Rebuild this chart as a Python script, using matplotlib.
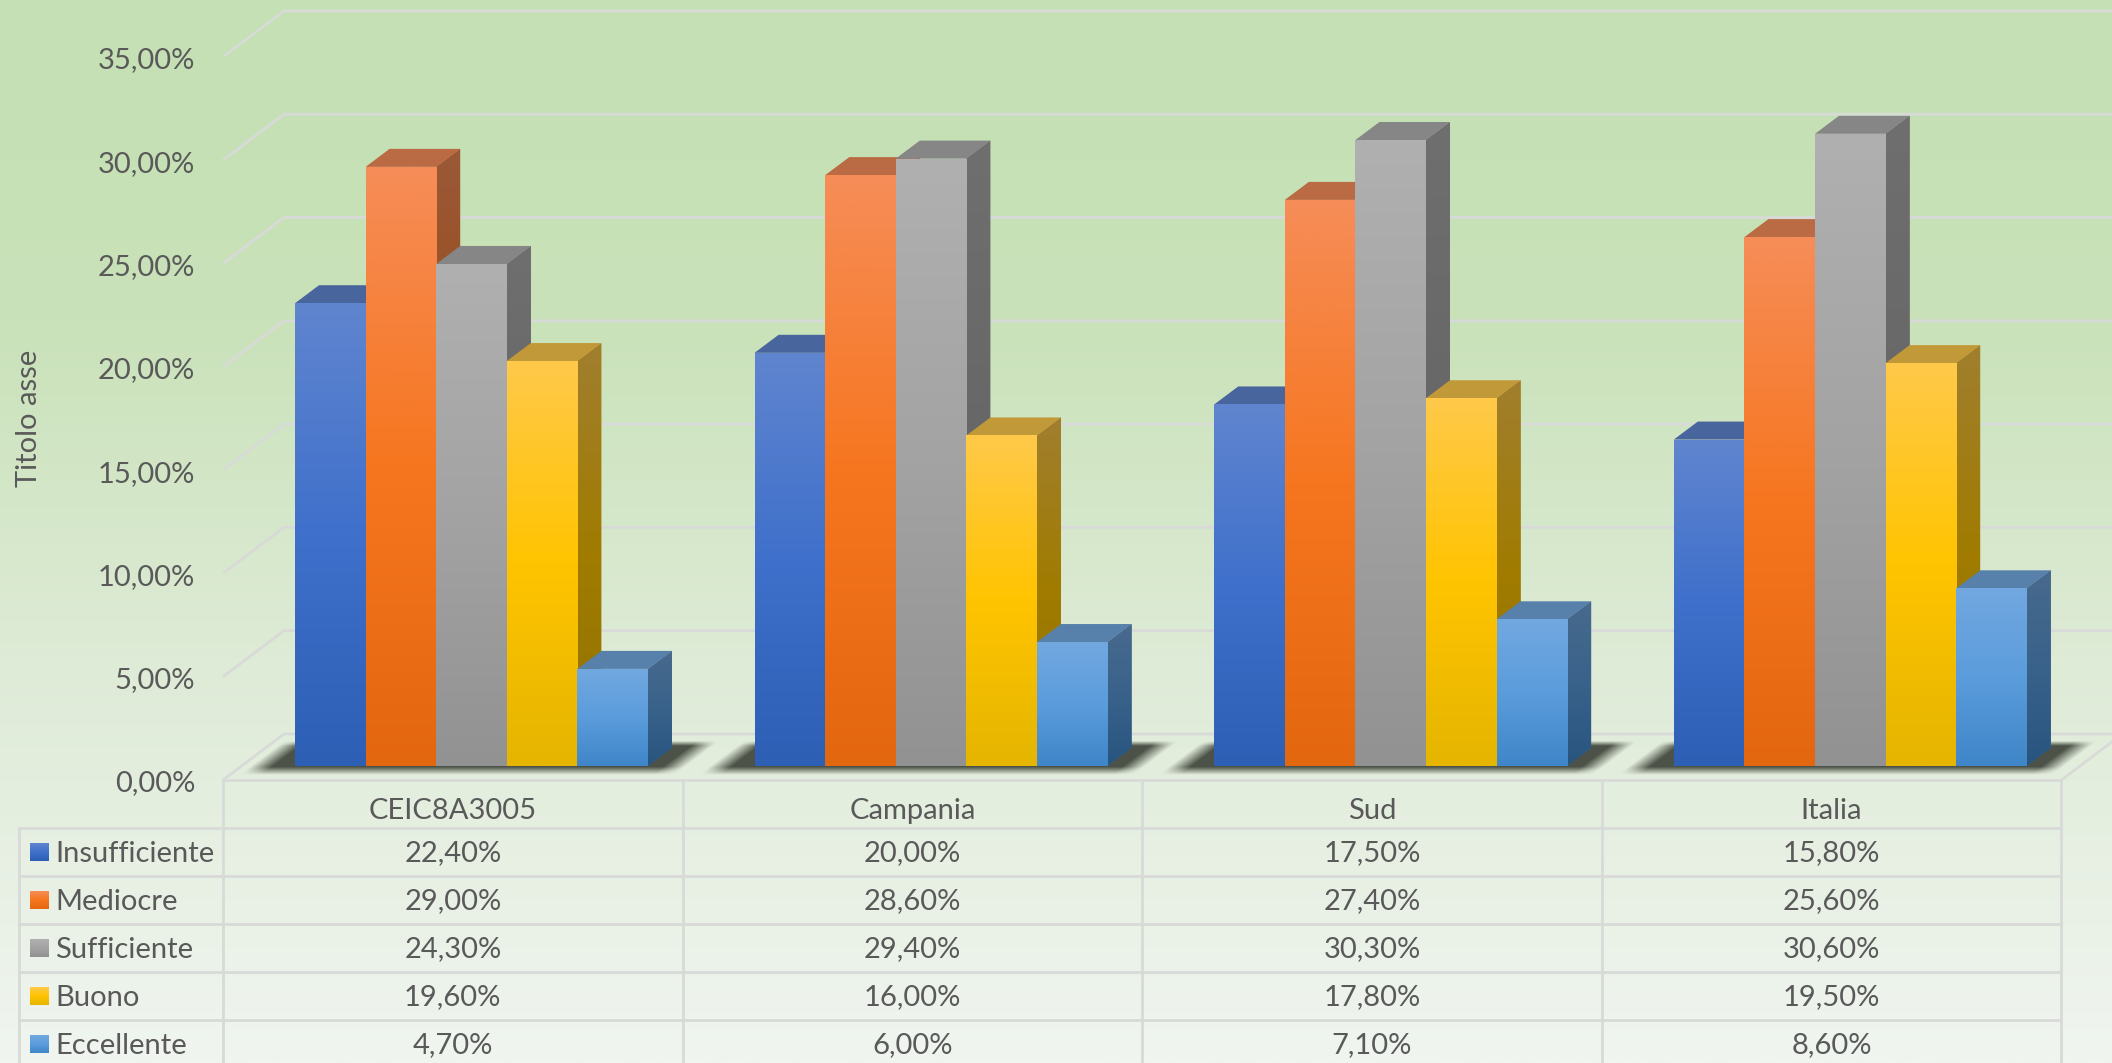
import numpy as np
import matplotlib
matplotlib.use("Agg")
from matplotlib import pyplot as plt
from matplotlib.colors import LinearSegmentedColormap, to_rgb
from matplotlib.patches import Polygon, Rectangle

categories = ["CEIC8A3005", "Campania", "Sud", "Italia"]
series_names = ["Insufficiente", "Mediocre", "Sufficiente", "Buono", "Eccellente"]
insufficiente = [22.4, 20.0, 17.5, 15.8]
mediocre = [29.0, 28.6, 27.4, 25.6]
sufficiente = [24.3, 29.4, 30.3, 30.6]
buono = [19.6, 16.0, 17.8, 19.5]
eccellente = [4.7, 6.0, 7.1, 8.6]
y_ticks = [0, 5, 10, 15, 20, 25, 30, 35]
y_title = "Titolo asse"

series_values = [insufficiente, mediocre, sufficiente, buono, eccellente]
# bottom / middle / top of each bar gradient
gradients = [
    ["#2d5fb5", "#3f70cb", "#6085cf"],
    ["#e3670f", "#f6761f", "#f68d58"],
    ["#929292", "#a3a3a3", "#b0b0b0"],
    ["#e5b500", "#ffc400", "#ffc94a"],
    ["#3f86c8", "#5b9cdc", "#72a8e0"],
]
bg_stops = [(0.0, "#c5e0b4"), (0.3, "#c9e2b9"), (0.62, "#deebd6"), (1.0, "#f0f5f0")]

W, H = 2112, 1063
PX_X = 459.6  # pixels per category
PX_Y = 20.66  # pixels per percent
X0 = 471.5  # pixel of the first category centre
TEXT = "#595959"
GRID = "#d8dad8"
plt.rcParams["font.family"] = ["Lato", "DejaVu Sans"]

fig = plt.figure(figsize=(W / 100, H / 100), dpi=100)
ax = fig.add_axes([0, 0, 1, 1])
xlim = (-X0 / PX_X, (W - X0) / PX_X)
ylim = ((766 - H) / PX_Y, 766 / PX_Y)
ax.axis("off")


def px(n):
    return n / PX_X


def py(n):
    return n / PX_Y


def pct(v):
    return f"{v:.2f}%".replace(".", ",")


# background
bg = LinearSegmentedColormap.from_list("bg", bg_stops)
ax.imshow(np.linspace(0, 1, 400).reshape(-1, 1), cmap=bg, vmin=0, vmax=1,
          extent=(xlim[0], xlim[1], ylim[0], ylim[1]), origin="upper",
          aspect="auto", zorder=0)

# walls and floor
left = px(223 - X0)
right = left + len(categories)
front_off = py(-14)
wall_dx = px(61)
wall_dy = py(46)
for t in y_ticks:
    y0 = t + front_off
    ax.plot([left, left + wall_dx, xlim[1] + 1], [y0, y0 + wall_dy, y0 + wall_dy],
            color=GRID, lw=2, zorder=1, solid_capstyle="butt")
    ax.text(px(195 - X0), y0 - py(3.5), pct(t), ha="right", va="center",
            fontsize=21, color=TEXT, zorder=6)
ax.plot([right, right + wall_dx], [front_off, front_off + wall_dy], color=GRID, lw=2, zorder=1)
ax.text(px(29 - X0), py(766 - 418), y_title, rotation=90, ha="center", va="center",
        fontsize=21, color=TEXT, zorder=6)

# shadows under the groups
bar_w = px(70.6)
depth_x = px(24)
depth_y = py(18)
slant = depth_x / depth_y
gx = np.linspace(xlim[0], xlim[1], W)
gy = np.linspace(ylim[1], ylim[0], H)
mx, my = np.meshgrid(gx, gy)
n = len(series_names)
alpha = np.zeros_like(mx)
for i in range(len(categories)):
    x0 = i - n * bar_w / 2
    x1 = i + n * bar_w / 2
    s = mx - slant * my
    a = np.clip((my - py(-9)) / py(8), 0, 1) * np.clip((py(25) - my) / py(5), 0, 1)
    a = a * np.clip((s - (x0 - px(44))) / px(22), 0, 1)
    a = a * np.clip(((x1 + px(38)) - s) / px(22), 0, 1)
    alpha = np.maximum(alpha, a)
shadow = np.zeros((H, W, 4))
shadow[..., :3] = to_rgb("#474d42")
shadow[..., 3] = alpha * 0.97
ax.imshow(shadow, extent=(xlim[0], xlim[1], ylim[0], ylim[1]), origin="upper",
          aspect="auto", zorder=2)

# bars, left to right so each one covers the side of the previous
z = 3.0
ramp = np.linspace(1, 0, 256).reshape(-1, 1)
for j, vals in enumerate(series_values):
    cm = LinearSegmentedColormap.from_list(series_names[j], gradients[j])
    side_cm = LinearSegmentedColormap.from_list(
        series_names[j] + "_s", [np.array(to_rgb(c)) * 0.63 for c in gradients[j]])
    top_c = np.array(to_rgb(gradients[j][2])) * 0.76
    xs = np.arange(len(categories)) + (j - (n - 1) / 2) * bar_w
    bars = ax.bar(xs, vals, bar_w, color=gradients[j][1], zorder=z)
    for x, v, b in zip(xs, vals, bars):
        r = x + bar_w / 2
        l = x - bar_w / 2
        side = Polygon([(r, 0), (r + depth_x, depth_y), (r + depth_x, v + depth_y), (r, v)],
                       facecolor=side_cm(0.5), edgecolor="none", zorder=z + 0.01)
        ax.add_patch(side)
        im = ax.imshow(ramp, cmap=side_cm, vmin=0, vmax=1, extent=(r, r + depth_x, 0, v + depth_y),
                       origin="upper", aspect="auto", zorder=z + 0.02)
        im.set_clip_path(side)
        top = Polygon([(l, v), (r, v), (r + depth_x, v + depth_y), (l + depth_x, v + depth_y)],
                      facecolor=top_c, edgecolor="none", zorder=z + 0.03)
        ax.add_patch(top)
        im = ax.imshow(ramp, cmap=cm, vmin=0, vmax=1, extent=(l, r, 0, v),
                       origin="upper", aspect="auto", zorder=z + 0.04)
        im.set_clip_path(b)
    z += 0.1

# data table under the chart
row_h = py(48)
table_left = left - px(204)
rows_top = front_off - row_h
for c in range(len(categories) + 1):
    ax.plot([left + c, left + c], [front_off, ylim[0] - 1], color=GRID, lw=2, zorder=5)
ax.plot([left, right], [front_off, front_off], color=GRID, lw=2, zorder=5)
ax.plot([table_left, table_left], [rows_top, ylim[0] - 1], color=GRID, lw=2, zorder=5)
for r in range(n + 1):
    yr = rows_top - r * row_h
    ax.plot([table_left, right], [yr, yr], color=GRID, lw=2, zorder=5)
for c, name in enumerate(categories):
    ax.text(left + c + 0.5, front_off - row_h / 2 - py(7), name, ha="center", va="center",
            fontsize=21, color=TEXT, zorder=6)
for j, vals in enumerate(series_values):
    yc = rows_top - (j + 0.5) * row_h
    for c, v in enumerate(vals):
        ax.text(left + c + 0.5, yc - py(1.5), pct(v), ha="center", va="center",
                fontsize=21, color=TEXT, zorder=6)
    cm = LinearSegmentedColormap.from_list(series_names[j] + "_k", gradients[j])
    kx = table_left + px(11)
    key = Rectangle((kx, yc - py(9)), px(19), py(18), facecolor=gradients[j][1],
                    edgecolor="none", zorder=6)
    ax.add_patch(key)
    im = ax.imshow(ramp, cmap=cm, vmin=0, vmax=1, extent=(kx, kx + px(19), yc - py(9), yc + py(9)),
                   origin="upper", aspect="auto", zorder=6.1)
    im.set_clip_path(key)
    ax.text(table_left + px(36), yc - py(1.5), series_names[j], ha="left", va="center",
            fontsize=21, color=TEXT, zorder=6)

ax.set_xlim(xlim)
ax.set_ylim(ylim)
fig.savefig("out.png", dpi=100)
